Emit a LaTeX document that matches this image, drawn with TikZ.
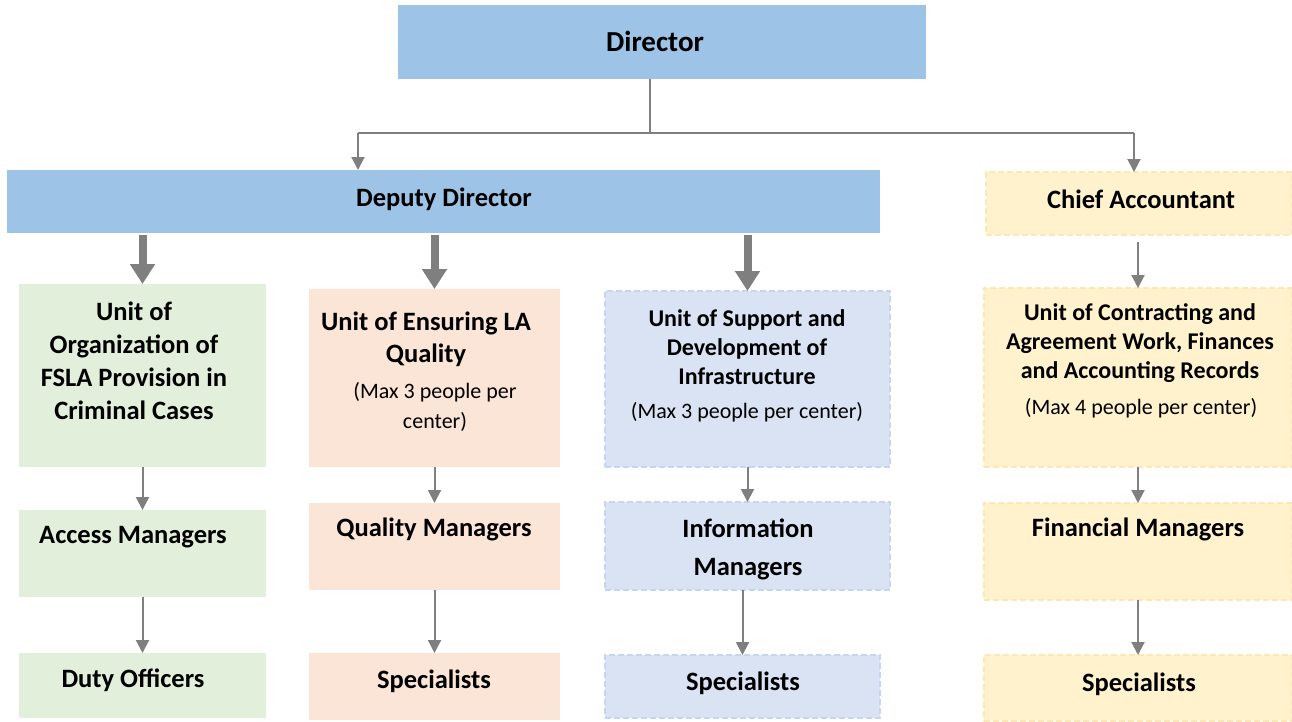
\documentclass[tikz,border=0pt]{standalone}
\usepackage{fontspec}
\setmainfont{Carlito}
\usepackage{xcolor}
\usetikzlibrary{arrows.meta, positioning}

\definecolor{headblue}{RGB}{157,195,230}
\definecolor{orggreen}{RGB}{226,239,218}
\definecolor{qualpeach}{RGB}{251,229,214}
\definecolor{infoblue}{RGB}{218,227,243}
\definecolor{infoedge}{RGB}{200,213,238}
\definecolor{finyellow}{RGB}{255,242,204}
\definecolor{finedge}{RGB}{252,232,180}
\definecolor{arrowgray}{RGB}{127,127,127}

\begin{document}
\begin{tikzpicture}[x=1pt,y=-1pt,
  boxnode/.style={anchor=north west, inner sep=0pt, outer sep=0pt},
  bluebox/.style={boxnode, fill=headblue},
  greenbox/.style={boxnode, fill=orggreen},
  peachbox/.style={boxnode, fill=qualpeach},
  infobox/.style={boxnode, fill=infoblue, draw=infoedge, line width=1.2pt, dash pattern=on 6pt off 3pt},
  finbox/.style={boxnode, fill=finyellow, draw=finedge, line width=1.2pt, dash pattern=on 6pt off 3pt},
  title/.style={font=\bfseries\fontsize{26.5}{33}\selectfont, align=center, inner sep=0pt},
  smalltitle/.style={font=\bfseries\fontsize{24}{29}\selectfont, align=center, inner sep=0pt},
  note/.style={font=\fontsize{22}{30}\selectfont, align=center, inner sep=0pt},
  thinarrow/.style={draw=arrowgray, line width=2pt, -{Triangle[width=13pt,length=13pt]}},
  thickarrow/.style={draw=arrowgray, line width=8pt, -{Triangle[width=24pt,length=20pt]}},
  joinline/.style={draw=arrowgray, line width=2.5pt}
]
\useasboundingbox (0,0) rectangle (1292,721);

%Boxes
\node[bluebox, minimum width=528pt, minimum height=74pt] (dir) at (398,5) {};
\node[bluebox, minimum width=873pt, minimum height=63pt] (dep) at (7,170) {};
\node[finbox, minimum width=306pt, minimum height=63pt] (chief) at (986,172) {};

\node[greenbox, minimum width=247pt, minimum height=183pt] (org) at (19,284) {};
\node[greenbox, minimum width=247pt, minimum height=87pt] (acc) at (19,510) {};
\node[greenbox, minimum width=247pt, minimum height=65pt] (duty) at (19,653) {};

\node[peachbox, minimum width=251pt, minimum height=178pt] (ens) at (309,289) {};
\node[peachbox, minimum width=251pt, minimum height=87pt] (qual) at (309,503) {};
\node[peachbox, minimum width=251pt, minimum height=67pt] (specq) at (309,653) {};

\node[infobox, minimum width=285pt, minimum height=176pt] (supp) at (605,291) {};
\node[infobox, minimum width=285pt, minimum height=88pt] (info) at (605,502) {};
\node[infobox, minimum width=275pt, minimum height=63pt] (speci) at (605,655) {};

\node[finbox, minimum width=308pt, minimum height=179pt] (contr) at (984,288) {};
\node[finbox, minimum width=308pt, minimum height=97pt] (finm) at (984,503) {};
\node[finbox, minimum width=308pt, minimum height=66pt] (specf) at (984,655) {};

% Text Node
\node[title, font=\bfseries\fontsize{29}{35}\selectfont] (dirtext) at (655,41) {Director};
\node[title] (deptext) at (444,199) {Deputy Director};
\node[title] (chieftext) at (1141,199) {Chief Accountant};

\node[title] (orgtext) at (134,361) {Unit of\\Organization of\\FSLA Provision in\\Criminal Cases};
\node[title] (acctext) at (133,537) {Access Managers};
\node[title] (dutytext) at (133,680) {Duty Officers};

\node[title, font=\bfseries\fontsize{26.5}{32}\selectfont] (enstext) at (426,339) {Unit of Ensuring LA\\Quality};
\node[note] (ensnote) at (435,407) {(Max 3 people per\\center)};
\node[title] (qualtext) at (434,529) {Quality Managers};
\node[title] (specqtext) at (434,681) {Specialists};

\node[smalltitle] (supptext) at (747,347) {Unit of Support and\\Development of\\Infrastructure};
\node[note] (suppnote) at (747,412) {(Max 3 people per center)};
\node[title, font=\bfseries\fontsize{26.5}{38}\selectfont] (infotext) at (748,549) {Information\\Managers};
\node[title] (specitext) at (743,683) {Specialists};

\node[smalltitle] (contrtext) at (1140,343) {Unit of Contracting and\\Agreement Work, Finances\\and Accounting Records};
\node[note] (contrnote) at (1141,408) {(Max 4 people per center)};
\node[title] (finmtext) at (1138,529) {Financial Managers};
\node[title] (specftext) at (1139,684) {Specialists};

%Straight Lines
\coordinate (splitl) at (358,133);
\coordinate (splitm) at (650,133);
\coordinate (splitr) at (1134,133);
\draw[joinline] (splitm |- dir.south) -- (splitm);
\draw[joinline] (splitl) -- (splitr);
\draw[thinarrow] (splitl) -- (splitl |- dep.north);
\draw[thinarrow] (splitr) -- (splitr |- chief.north);

\draw[thickarrow] ([yshift=-2pt]dep.south -| org.north) -- (org.north);
\draw[thickarrow] ([yshift=-2pt]dep.south -| ens.north) -- (ens.north);
\draw[thickarrow] ([yshift=-2pt]dep.south -| supp.north) -- (supp.north);

\draw[thinarrow] ([yshift=-7pt]contr.north |- chief.south) -- (contr.north);
\draw[thinarrow] (org.south) -- (acc.north);
\draw[thinarrow] (acc.south) -- (duty.north);
\draw[thinarrow] (ens.south) -- (qual.north);
\draw[thinarrow] (qual.south) -- (specq.north);
\draw[thinarrow] (supp.south) -- (info.north);
\draw[thinarrow] (info.south -| speci.north) -- (speci.north);
\draw[thinarrow] (contr.south) -- (finm.north);
\draw[thinarrow] (finm.south) -- (specf.north);

\end{tikzpicture}
\end{document}
